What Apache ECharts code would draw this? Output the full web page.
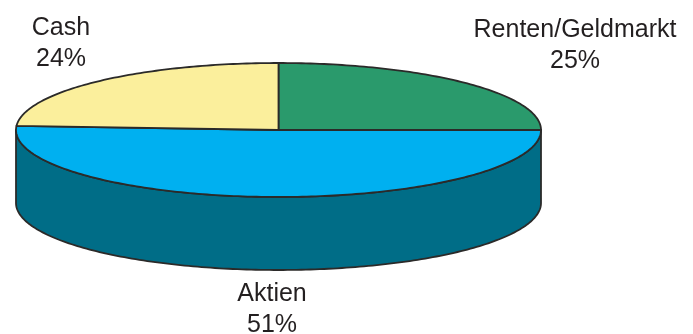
<!DOCTYPE html>
<html>
<head>
<meta charset="utf-8">
<script src="https://cdn.jsdelivr.net/npm/echarts@6/dist/echarts.min.js"></script>
<style>
html,body{margin:0;padding:0;background:#fff;}
#chart{width:693px;height:334px;}
</style>
</head>
<body>
<div id="chart"></div>
<script>
// ---- data ----
const categories = ['Renten/Geldmarkt', 'Aktien', 'Cash'];
const values = [25, 51, 24];

// ---- styles / layout ----
const topColors = ['#2a9a6c', '#00b0f0', '#fbef9c'];
const sideColors = ['#1d6b4b', '#006d87', '#b0a86d'];
const strokeColor = '#2b2a29';
const geom = { cx: 278.5, cy: 130, rx: 262.5, ry: 67, depth: 73 };
const labelPos = [[575, 45.5], [272, 309.5], [61, 44]];

const total = values.reduce((a, b) => a + b, 0);
const startAngles = [];
(function () {
  let acc = 0;
  for (let i = 0; i < values.length; i++) {
    startAngles.push(-Math.PI / 2 + acc / total * Math.PI * 2);
    acc += values[i];
  }
})();

function pt(a, dy) {
  return [geom.cx + geom.rx * Math.cos(a), geom.cy + geom.ry * Math.sin(a) + (dy || 0)];
}
function arcPts(a0, a1, dy) {
  const n = Math.max(2, Math.ceil(Math.abs(a1 - a0) / (Math.PI / 180)));
  const out = [];
  for (let k = 0; k <= n; k++) out.push(pt(a0 + (a1 - a0) * k / n, dy));
  return out;
}

const chart = echarts.init(document.getElementById('chart'), null, { renderer: 'canvas' });

function renderItem(params, api) {
  const i = params.dataIndex;
  const v = api.value(0);
  const a0 = startAngles[i];
  const a1 = a0 + v / total * Math.PI * 2;
  const children = [];
  const ranges = [[0, Math.PI], [2 * Math.PI, 3 * Math.PI], [-2 * Math.PI, -Math.PI]];
  ranges.forEach(function (r) {
    const s = Math.max(a0, r[0]);
    const e = Math.min(a1, r[1]);
    if (e > s) {
      const top = arcPts(s, e, 0);
      const bot = arcPts(e, s, geom.depth);
      children.push({
        type: 'polygon',
        z2: 1,
        shape: { points: top.concat(bot) },
        style: { fill: sideColors[i], stroke: strokeColor, lineWidth: 1.8, lineJoin: 'round' }
      });
    }
  });
  children.push({
    type: 'polygon',
    z2: 2,
    shape: { points: [[geom.cx, geom.cy]].concat(arcPts(a0, a1, 0)) },
    style: { fill: topColors[i], stroke: strokeColor, lineWidth: 1.8, lineJoin: 'round' }
  });
  children.push({
    type: 'text',
    z2: 3,
    x: labelPos[i][0],
    y: labelPos[i][1],
    style: {
      text: categories[i] + '\n' + v + '%',
      fill: '#231f20',
      font: '25px "Liberation Sans", Arial, sans-serif',
      lineHeight: 31,
      align: 'center',
      verticalAlign: 'middle'
    }
  });
  return { type: 'group', children: children };
}

chart.setOption({
  animation: false,
  backgroundColor: '#ffffff',
  series: [{
    type: 'custom',
    coordinateSystem: 'none',
    renderItem: renderItem,
    data: values.map(function (v, i) { return { name: categories[i], value: [v] }; })
  }]
});
</script>
</body>
</html>
